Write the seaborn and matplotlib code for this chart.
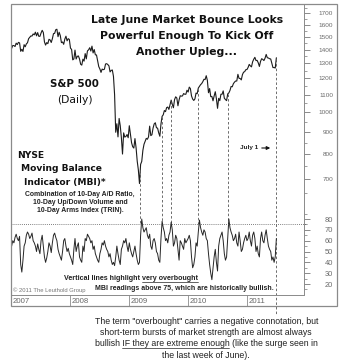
import numpy as np
import pandas as pd
import matplotlib
matplotlib.use("Agg")
import matplotlib.pyplot as plt
import seaborn as sns
from matplotlib.lines import Line2D
from matplotlib.patches import Rectangle, FancyArrowPatch
from matplotlib.ticker import FixedLocator, NullFormatter, FixedFormatter
import matplotlib.dates as mdates

# ---------------- data (weekly values) ----------------
sp_2007 = [1409, 1431, 1430, 1423, 1449, 1438, 1455, 1451, 1387, 1402, 1386, 1437, 1421,
           1443, 1452, 1484, 1495, 1506, 1505, 1522, 1515, 1537, 1507, 1533, 1503, 1503,
           1530, 1552, 1534, 1459, 1434, 1453, 1445, 1479, 1474, 1454, 1484, 1525, 1527,
           1557, 1561, 1500, 1536, 1509, 1453, 1458, 1440, 1481, 1504, 1467, 1484, 1478]
sp_2008 = [1411, 1401, 1325, 1331, 1396, 1331, 1350, 1353, 1331, 1294, 1288, 1330, 1316,
           1370, 1332, 1390, 1398, 1414, 1389, 1426, 1375, 1400, 1361, 1360, 1318, 1278,
           1262, 1239, 1261, 1257, 1260, 1296, 1298, 1292, 1283, 1242, 1252, 1255, 1213,
           1099, 899, 941, 877, 968, 931, 873, 800, 896, 876, 879, 888, 873]
sp_2009 = [931, 890, 850, 832, 826, 869, 827, 770, 735, 683, 757, 769, 816,
           843, 857, 870, 866, 877, 929, 883, 887, 919, 940, 946, 921, 919,
           896, 880, 940, 979, 987, 1010, 1004, 1026, 1029, 1016, 1042, 1068, 1044,
           1025, 1071, 1087, 1080, 1036, 1069, 1093, 1091, 1092, 1106, 1102, 1102, 1126]
sp_2010 = [1115, 1145, 1136, 1092, 1074, 1066, 1075, 1109, 1105, 1139, 1150, 1160, 1167,
           1179, 1194, 1192, 1217, 1187, 1111, 1136, 1088, 1089, 1064, 1092, 1117, 1076,
           1022, 1078, 1065, 1102, 1102, 1122, 1079, 1071, 1065, 1104, 1110, 1125, 1149,
           1147, 1166, 1176, 1183, 1183, 1226, 1200, 1199, 1190, 1224, 1240, 1244, 1257, 1258]
sp_2011 = [1272, 1293, 1283, 1276, 1311, 1329, 1343, 1320, 1321, 1304, 1279, 1314,
           1333, 1328, 1320, 1337, 1364, 1340, 1338, 1333, 1331, 1300, 1271, 1272, 1268, 1340]

mbi_2007 = [55, 60, 58, 63, 66, 62, 60, 64, 38, 31, 42, 55, 58, 65, 68, 66, 62, 64, 67, 60,
            58, 55, 50, 57, 52, 48, 60, 65, 55, 45, 40, 44, 50, 58, 55, 49, 58, 65, 67, 63,
            60, 52, 48, 45, 42, 50, 60, 62, 55, 50, 53, 48]
mbi_2008 = [45, 42, 38, 52, 62, 50, 55, 58, 45, 42, 40, 55, 50, 62, 60, 66, 64, 62, 58, 60,
            52, 55, 48, 45, 42, 40, 48, 52, 58, 56, 60, 55, 52, 50, 45, 48, 42, 38, 40, 37,
            45, 55, 48, 42, 38, 52, 55, 60, 58, 62, 55, 50]
mbi_2009 = [58, 52, 48, 45, 50, 55, 48, 42, 38, 40, 65, 80, 72, 68, 70, 72, 65, 62, 66, 55,
            52, 60, 62, 58, 50, 48, 42, 40, 62, 78, 72, 68, 60, 62, 58, 65, 68, 77, 70, 55,
            58, 65, 62, 52, 42, 60, 58, 55, 52, 62, 58, 60]
mbi_2010 = [62, 65, 60, 45, 35, 38, 45, 58, 55, 68, 79, 72, 68, 65, 70, 68, 62, 60, 48, 38,
            30, 24, 35, 45, 52, 40, 32, 55, 62, 65, 68, 60, 48, 42, 45, 62, 80, 72, 68, 65,
            60, 62, 66, 58, 55, 68, 60, 50, 52, 58, 62, 65, 60]
mbi_2011 = [62, 68, 60, 55, 65, 68, 62, 50, 55, 48, 45, 62, 68, 60, 58, 65, 70, 62, 55, 52,
            50, 42, 45, 40, 45, 62]

years = [2007, 2008, 2009, 2010, 2011]
year_labels = ["2007", "2008", "2009", "2010", "2011"]
price_ticks = [700, 800, 900, 1000, 1100, 1200, 1300, 1400, 1500, 1600, 1700]
mbi_ticks = [20, 30, 40, 50, 60, 70, 80]
overbought_level = 75
signal_dates = ["2009-03-11", "2009-07-23", "2009-09-17", "2010-03-04", "2010-09-03", "2011-06-30"]

title_lines = ["Late June Market Bounce Looks", "Powerful Enough To Kick Off", "Another Upleg..."]
caption_lines = ['The term "overbought" carries a negative connotation, but',
                 "short-term bursts of market strength are almost always",
                 "bullish IF they are extreme enough (like the surge seen in",
                 "the last week of June)."]

# ---------------- frame ----------------
def fridays(y, n):
    return pd.date_range(f"{y}-01-01", f"{y}-12-31", freq="W-FRI")[:n]

sp_lists = [sp_2007, sp_2008, sp_2009, sp_2010, sp_2011]
mbi_lists = [mbi_2007, mbi_2008, mbi_2009, mbi_2010, mbi_2011]
dates = np.concatenate([fridays(y, len(v)) for y, v in zip(years, sp_lists)])
df = pd.DataFrame({"date": pd.to_datetime(dates),
                   "sp": np.concatenate(sp_lists),
                   "mbi": np.concatenate(mbi_lists)})

# ---------------- figure ----------------
sns.set_theme(style="white")
plt.rcParams["font.family"] = ["DejaVu Sans"]
W, H = 350, 363
fig = plt.figure(figsize=(W / 100, H / 100), dpi=100)
fig.patch.set_facecolor("white")

def fx(x): return x / W
def fy(y): return 1 - y / H

L, R, T, B = 11, 304, 4, 295
FR, FB = 337, 306
rect = [fx(L), fy(B), (R - L) / W, (B - T) / H]
ax_p = fig.add_axes(rect)
ax_m = fig.add_axes(rect)
xmin, xmax = pd.Timestamp("2007-01-01"), pd.Timestamp("2011-12-19")

sns.lineplot(data=df, x="date", y="sp", ax=ax_p, color="#1c1c1c", lw=0.8)
sns.lineplot(data=df, x="date", y="mbi", ax=ax_m, color="#262626", lw=0.7)
for ax in (ax_p, ax_m):
    ax.patch.set_alpha(0)
    for s in ax.spines.values():
        s.set_visible(False)
    ax.set_xlim(xmin, xmax)
    ax.set_xticks([])
    ax.set_xlabel("")
    ax.set_ylabel("")

ax_p.set_yscale("log")
ax_p.set_ylim(376, 1787)
ax_m.set_ylim(9.85, 278.5)

lab_col = "#6a6a6a"
for ax, ticks, minors, fs in ((ax_p, price_ticks, list(range(650, 1800, 100)), 4.6),
                              (ax_m, mbi_ticks, list(range(15, 90, 10)), 5.4)):
    ax.yaxis.tick_right()
    ax.yaxis.set_major_locator(FixedLocator(ticks))
    ax.yaxis.set_major_formatter(FixedFormatter([str(t) for t in ticks]))
    ax.yaxis.set_minor_locator(FixedLocator(minors))
    ax.yaxis.set_minor_formatter(NullFormatter())
    ax.tick_params(axis="y", which="major", length=4, width=0.6, color="#777777",
                   labelsize=fs, labelcolor=lab_col, pad=17, direction="out", right=True, left=False)
    ax.tick_params(axis="y", which="minor", length=2.5, width=0.5, color="#777777",
                   direction="out", right=True, left=False)
    for lab in ax.get_yticklabels():
        lab.set_horizontalalignment("right")
        lab.set_family("Liberation Sans")

# overbought dotted line
ax_m.axhline(overbought_level, xmin=0, xmax=1.01, color="#555555", lw=0.6, ls=(0, (1, 1.5)), clip_on=False)

# vertical dashed lines: price curve down to the overbought level
fig.canvas.draw()
xs = mdates.date2num(df["date"])
for i, d in enumerate(signal_dates):
    dt = pd.Timestamp(d)
    xn = mdates.date2num(dt)
    pv = float(np.exp(np.interp(xn, xs, np.log(df["sp"]))))
    if i == len(signal_dates) - 1:
        ybot_pix = ax_m.transAxes.transform((0, 0))[1] - 20
    else:
        ybot_pix = ax_m.transData.transform((xn, overbought_level))[1]
    ybot = ax_p.transData.inverted().transform((0, ybot_pix))[1]
    ax_p.plot([dt, dt], [pv, ybot], color="#555555", lw=0.6, ls=(0, (3, 2.5)), clip_on=False)

# ---------------- frame & year row ----------------
fig.add_artist(Rectangle((fx(L), fy(FB)), (FR - L) / W, (FB - T) / H, transform=fig.transFigure,
                         fill=False, edgecolor="#8a8a8a", lw=0.9))
fig.add_artist(Line2D([fx(R), fx(R)], [fy(T), fy(B)], color="#8a8a8a", lw=0.7))
fig.add_artist(Line2D([fx(L), fx(R)], [fy(B), fy(B)], color="#8a8a8a", lw=0.7))

ax_y = fig.add_axes([fx(L), fy(FB), (R - L) / W, (FB - B) / H])
ax_y.set_xlim(xmin, xmax)
ax_y.set_ylim(0, 1)
ax_y.axis("off")
for y, lab in zip(years, year_labels):
    d = pd.Timestamp(f"{y}-01-01")
    if y > years[0]:
        ax_y.plot([d, d], [0, 1], color="#8a8a8a", lw=0.6)
    ax_y.text(d + pd.Timedelta(days=10), 0.45, lab, ha="left", va="center",
              fontsize=5.6, color="#666666", family="Liberation Sans")

# ---------------- texts ----------------
renderer = fig.canvas.get_renderer()

def fit_text(s, x, y, target_w, ha="center", weight="normal", family="DejaVu Sans",
             color="#111111"):
    t = fig.text(fx(x), fy(y), s, ha=ha, va="center", fontsize=10, fontweight=weight,
                 family=family, color=color)
    w = t.get_window_extent(renderer).width
    t.set_fontsize(10 * target_w / w)
    return t

def text_w(s, fp):
    tt = fig.text(0, 0, s, fontproperties=fp)
    w = tt.get_window_extent(renderer).width
    tt.remove()
    return w

def underline(t, full, sub, color="#111111"):
    bb = t.get_window_extent(renderer)
    i = full.index(sub)
    fp = t.get_fontproperties()
    x1 = bb.x0 + text_w(full[:i + len(sub)], fp)
    x0 = x1 - text_w(sub, fp)
    yb = bb.y0 + 0.8
    inv = fig.transFigure.inverted()
    (a, b), (c, d) = inv.transform([(x0, yb), (x1, yb)])
    fig.add_artist(Line2D([a, c], [b, d], color=color, lw=0.5))

# title
t0 = fit_text(title_lines[0], 187, 20, 194, weight="bold")
fs_title = t0.get_fontsize()
for s, y in zip(title_lines[1:], [36, 52]):
    fig.text(fx(187), fy(y), s, ha="center", va="center", fontsize=fs_title,
             fontweight="bold", color="#111111")

fit_text("S&P 500", 74.5, 84, 49, weight="bold")
fit_text("(Daily)", 74.5, 100, 36)

t_mb = fit_text("Moving Balance", 21, 169, 81, ha="left", weight="bold")
fs_mb = t_mb.get_fontsize()
fig.text(fx(17), fy(156), "NYSE", ha="left", va="center", fontsize=fs_mb, fontweight="bold", color="#111111")
fig.text(fx(24), fy(183), "Indicator (MBI)*", ha="left", va="center", fontsize=fs_mb,
         fontweight="bold", color="#111111")

tc = fit_text("Combination of 10-Day A/D Ratio,", 80, 195, 110, weight="bold", family="Liberation Sans",
              color="#222222")
fs_c = tc.get_fontsize()
for s, y in (("10-Day Up/Down Volume and", 203), ("10-Day Arms Index (TRIN).", 211)):
    fig.text(fx(80), fy(y), s, ha="center", va="center", fontsize=fs_c, fontweight="bold",
             family="Liberation Sans", color="#222222")

s1 = "Vertical lines highlight very overbought"
tv = fit_text(s1, 130.5, 279, 135, weight="bold", family="Liberation Sans", color="#222222")
underline(tv, s1, "very overbought", "#222222")
fit_text("MBI readings above 75, which are historically bullish.", 184, 289, 178, weight="bold",
         family="Liberation Sans", color="#222222")
fit_text("\u00a9 2011 The Leuthold Group", 13, 290, 72, ha="left", family="Liberation Sans",
         color="#777777")

# July 1 marker
fit_text("July 1", 249, 148, 18, weight="bold", family="Liberation Sans", color="#222222")
fig.add_artist(FancyArrowPatch((fx(259), fy(148)), (fx(273), fy(148)),
                               transform=fig.transFigure, arrowstyle="-|>",
                               mutation_scale=5, color="#111111", lw=0.8))

# caption
tcap = fit_text(caption_lines[0], 207, 321, 225, family="Liberation Sans", color="#222222")
fs_cap = tcap.get_fontsize()
cap_objs = [tcap]
for s, y in zip(caption_lines[1:], [332.5, 344, 355]):
    cap_objs.append(fig.text(fx(206), fy(y), s, ha="center", va="center", fontsize=fs_cap,
                             family="Liberation Sans", color="#222222"))
underline(cap_objs[2], caption_lines[2], "IF they are extreme enough", "#222222")

fig.savefig("out.png", dpi=100, facecolor="white")
